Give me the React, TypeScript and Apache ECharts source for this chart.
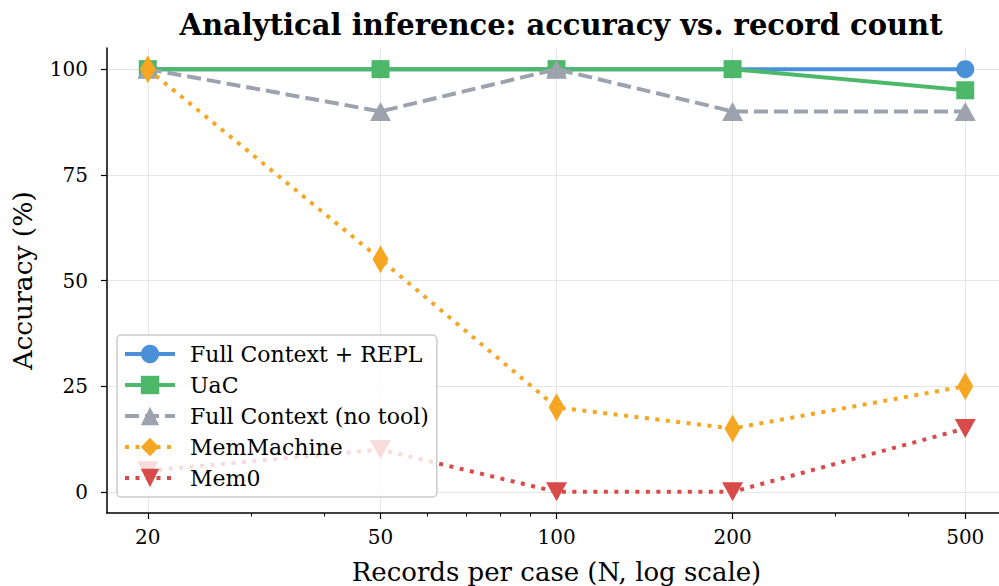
import React, { useEffect, useRef } from "react";
import * as echarts from "echarts";

const xValues = [20, 50, 100, 200, 500];
const minorTicks = [30, 40, 60, 70, 80, 90, 300, 400];
const yTicks = [0, 25, 50, 75, 100];

const seriesNames = ["Full Context + REPL", "UaC", "Full Context (no tool)", "MemMachine", "Mem0"];
const fullContextRepl = [100, 100, 100, 100, 100];
const uac = [100, 100, 100, 100, 95];
const fullContextNoTool = [100, 90, 100, 90, 90];
const memMachine = [100, 55, 20, 15, 25];
const mem0 = [5, 10, 0, 0, 15];

const colors = ["#4A90D9", "#4DB86A", "#9CA3AF", "#F5A623", "#D94A4A"];

const FONT = "DejaVu Serif";

export default function App() {
  const ref = useRef<HTMLDivElement>(null);
  useEffect(() => {
    if (!ref.current) return;
    const chart = echarts.init(ref.current, null, { renderer: "svg" });
    const pair = (vals: number[]) => xValues.map((x, i) => [x, vals[i]]);
    const lw = 4;
    const base = (name: string, idx: number, vals: number[], extra: any) => ({
      name,
      type: "line",
      data: pair(vals),
      xAxisIndex: 0,
      yAxisIndex: 0,
      showAllSymbol: true,
      lineStyle: { color: colors[idx], width: lw, ...(extra.lineStyle || {}) },
      itemStyle: { color: colors[idx] },
      symbol: extra.symbol,
      symbolSize: extra.symbolSize,
      symbolRotate: extra.symbolRotate || 0,
      z: 2 + idx * 0.1,
    });
    chart.setOption({
      animation: false,
      textStyle: { fontFamily: FONT },
      title: {
        text: "Analytical inference: accuracy vs. record count",
        left: 556,
        textAlign: "center",
        top: 5,
        textStyle: { fontFamily: FONT, fontWeight: "bold", fontSize: 29, color: "#000" },
      },
      grid: {
        left: 107,
        top: 48,
        width: 899,
        height: 465,
        containLabel: false,
        outerBoundsMode: "none",
      },
      legend: {
        orient: "vertical",
        left: 117,
        top: 335,
        itemWidth: 50,
        itemHeight: 23,
        itemGap: 9,
        padding: [8, 8, 8, 6],
        backgroundColor: "rgba(255,255,255,0.8)",
        borderColor: "#cccccc",
        borderWidth: 1.5,
        borderRadius: 4,
        lineStyle: { width: 4 },
        textStyle: { fontFamily: FONT, fontSize: 22, color: "#000", padding: [0, 0, 0, 10] },
        data: seriesNames,
      },
      xAxis: [
        {
          type: "log",
          logBase: 10,
          min: 17.03,
          max: 587,
          axisLine: { show: true, onZero: false, lineStyle: { color: "#000", width: 1.5 } },
          axisTick: { show: true, customValues: xValues, length: 6, lineStyle: { color: "#000", width: 1.2 } },
          axisLabel: {
            customValues: xValues,
            fontFamily: FONT,
            fontSize: 20,
            color: "#000",
            margin: 14,
            formatter: (v: number) => String(Math.round(v)),
          },
          splitLine: { show: true, lineStyle: { color: "#e6e6e6", width: 1 } },
          name: "Records per case (N, log scale)",
          nameLocation: "middle",
          nameGap: 46,
          nameTextStyle: { fontFamily: FONT, fontSize: 26, lineHeight: 26, color: "#000" },
        },
        {
          type: "log",
          logBase: 10,
          min: 17.03,
          max: 587,
          position: "bottom",
          axisLine: { show: false, onZero: false },
          axisTick: { show: true, customValues: minorTicks, length: 3.5, lineStyle: { color: "#000", width: 1 } },
          axisLabel: { show: false },
          splitLine: { show: false },
        },
      ],
      yAxis: {
        type: "value",
        min: -5,
        max: 105,
        axisLine: { show: true, onZero: false, lineStyle: { color: "#000", width: 1.5 } },
        axisTick: { show: true, customValues: yTicks, length: 6, lineStyle: { color: "#000", width: 1.2 } },
        axisLabel: {
          customValues: yTicks,
          fontFamily: FONT,
          fontSize: 20,
          color: "#000",
          margin: 19,
        },
        splitLine: { show: true, lineStyle: { color: "#e6e6e6", width: 1 } },
        name: "Accuracy (%)",
        nameLocation: "middle",
        nameRotate: 90,
        nameGap: 71,
        nameTextStyle: { fontFamily: FONT, fontSize: 26.5, color: "#000" },
      },
      series: [
        base(seriesNames[0], 0, fullContextRepl, { symbol: "circle", symbolSize: 18 }),
        base(seriesNames[1], 1, uac, { symbol: "rect", symbolSize: 18 }),
        base(seriesNames[2], 2, fullContextNoTool, {
          symbol: "triangle",
          symbolSize: [21, 19],
          lineStyle: { type: [14, 6] },
        }),
        base(seriesNames[3], 3, memMachine, {
          symbol: "diamond",
          symbolSize: [16, 28],
          lineStyle: { type: [4, 6.5] },
        }),
        base(seriesNames[4], 4, mem0, {
          symbol: "triangle",
          symbolSize: [21, 19],
          symbolRotate: 180,
          lineStyle: { type: [4, 6.5] },
        }),
      ],
    });
    return () => chart.dispose();
  }, []);
  return <div ref={ref} style={{ width: 999, height: 586, position: "absolute", left: 0, top: 0 }} />;
}
